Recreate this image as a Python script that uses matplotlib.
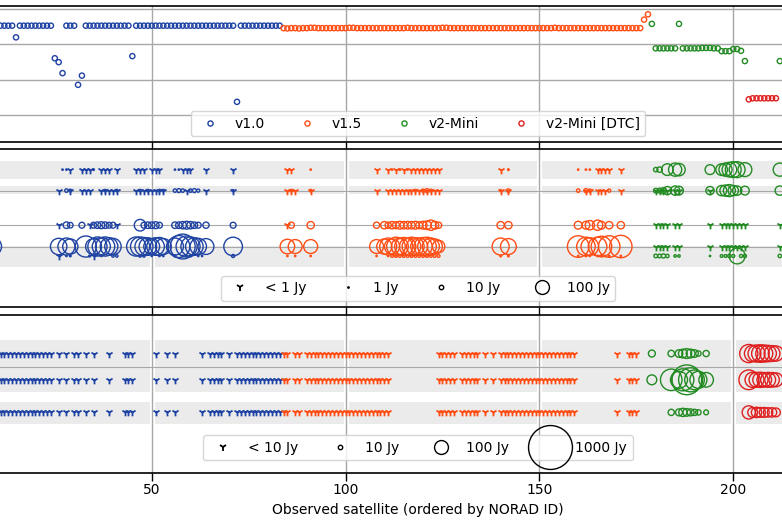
import matplotlib
matplotlib.use("Agg")
import matplotlib.pyplot as plt
from matplotlib.lines import Line2D

# ---------------- data ----------------
# Top panel: orbital altitude (km) per satellite (index ordered by NORAD ID)
v10_sat = list(range(9, 84))
v10_alt = [553, 553, 553, 553, 553, 553, 520, 553, 553, 553, 553, 553, 553, 553, 553, 553,
           461, 450, 419, 553, 553, 553, 386, 412, 553, 553, 553, 553, 553, 553, 553, 553,
           553, 553, 553, 553, 467, 553, 553, 553, 553, 553, 553, 553, 553, 553, 553, 553,
           553, 553, 553, 553, 553, 553, 553, 553, 553, 553, 553, 553, 553, 553, 553, 338,
           553, 553, 553, 553, 553, 553, 553, 553, 553, 553, 553]
v15_sat = list(range(84, 179))
v15_alt = [546, 545, 546, 546, 545, 546, 546, 547, 547, 546, 546, 546, 546, 546, 546, 546,
           546, 547, 547, 546, 546, 546, 546, 546, 546, 546, 546, 546, 546, 546, 546, 546,
           547, 546, 546, 546, 546, 546, 546, 546, 546, 547, 547, 546, 546, 546, 546, 546,
           546, 546, 546, 546, 546, 546, 546, 546, 546, 546, 546, 546, 546, 546, 546, 546,
           546, 546, 546, 546, 546, 546, 547, 546, 546, 546, 546, 546, 546, 546, 546, 546,
           546, 546, 546, 546, 546, 546, 546, 546, 546, 546, 546, 546, 546, 570, 585]
v2m_sat = [179, 180, 181, 182, 183, 184, 185, 186, 187, 188, 189, 190, 191, 192, 193, 194,
           195, 196, 197, 198, 199, 200, 201, 202, 203, 212]
v2m_alt = [558, 489, 489, 489, 489, 489, 489, 558, 489, 489, 489, 489, 489, 490, 490, 490,
           489, 489, 481, 481, 481, 487, 487, 482, 453, 453]
dtc_sat = [204, 205, 206, 207, 208, 209, 210, 211]
dtc_alt = [345, 348, 348, 348, 348, 348, 348, 348]

# Middle panel (LBA): per row -> (non-detections x, [(x, flux Jy), ...])
lba_row_mhz = [65.9, 59.9, 50.0, 43.9, 41.2]
lba_bands_mhz = [(63.3, 68.5), (58.9, 61.3), (38.1, 44.1)]
lba_v10 = [
    ([29, 32, 33, 34, 37, 38, 39, 41, 46, 47, 48, 50, 51, 52, 58, 59, 60, 64, 71],
     [(27, 1), (28, 1), (35, 1.5), (56, 1), (57, 1)]),
    ([26, 29, 32, 33, 34, 37, 38, 39, 40, 41, 46, 47, 48, 49, 50, 51, 52, 53, 59, 64, 71],
     [(28, 6), (29, 4), (38, 3), (41, 3), (47, 3), (49, 3), (52, 3), (53, 3), (56, 6), (57, 8),
      (58, 6), (60, 6), (61, 8), (62, 5), (71, 2)]),
    ([26, 34, 41],
     [(28, 22), (29, 16), (32, 18), (35, 18), (36, 22), (37, 25), (38, 22), (39, 18), (40, 18),
      (47, 70), (48, 18), (49, 22), (50, 22), (51, 25), (52, 18), (56, 22), (57, 22), (58, 28),
      (59, 32), (60, 28), (61, 22), (62, 18), (64, 20), (71, 18)]),
    ([],
     [(9, 160), (26, 140), (28, 150), (29, 120), (33, 230), (35, 130), (36, 190), (37, 170),
      (38, 190), (39, 160), (40, 140), (46, 190), (47, 190), (48, 170), (49, 160), (50, 130),
      (51, 160), (52, 170), (53, 130), (56, 150), (57, 250), (58, 320), (59, 230), (60, 190),
      (61, 160), (62, 140), (64, 130), (71, 180)]),
    ([26, 35],
     [(28, 1), (29, 1.5), (34, 2), (37, 1), (40, 3), (41, 3), (47, 3), (48, 3), (50, 1), (52, 1),
      (53, 1), (56, 2), (58, 1), (59, 1), (60, 2), (62, 1), (63, 1), (71, 5)]),
]
lba_v15 = [
    ([85, 86, 108, 111, 113, 115, 117, 118, 119, 120, 121, 122, 123, 124, 140, 165, 166, 167,
      168, 171],
     [(91, 1), (112, 1), (114, 1.5), (116, 1), (142, 1.5), (160, 1), (162, 1), (163, 1)]),
    ([85, 86, 87, 91, 108, 111, 112, 113, 114, 115, 116, 117, 118, 119, 120, 121, 122, 123, 124,
      140, 142, 162, 163, 165, 166, 167, 171],
     [(86, 3), (91, 3), (118, 3), (120, 5), (121, 8), (122, 4), (140, 2), (142, 6), (160, 6),
      (162, 8), (163, 5), (168, 5)]),
    ([85],
     [(86, 20), (91, 28), (108, 20), (110, 28), (111, 20), (112, 28), (113, 25), (114, 32),
      (115, 28), (116, 30), (117, 28), (118, 32), (119, 25), (120, 32), (121, 38), (122, 55),
      (123, 32), (124, 20), (140, 28), (142, 28), (160, 32), (162, 32), (163, 45), (165, 55),
      (166, 32), (168, 28), (171, 28)]),
    ([],
     [(85, 110), (87, 100), (91, 100), (108, 100), (110, 120), (111, 150), (112, 120),
      (113, 180), (114, 150), (115, 170), (116, 140), (117, 180), (118, 160), (119, 150),
      (120, 170), (121, 180), (122, 150), (123, 120), (124, 80), (140, 150), (142, 130),
      (160, 240), (162, 180), (163, 160), (165, 180), (166, 220), (168, 240), (171, 260)]),
    ([],
     [(85, 1), (87, 1), (91, 1), (108, 1), (111, 1), (112, 4), (113, 4), (114, 4), (115, 4),
      (116, 4), (117, 4), (118, 4), (119, 4), (120, 4), (121, 4), (122, 4), (123, 4), (124, 4),
      (140, 1.5), (142, 1.5), (160, 1), (162, 1), (163, 1), (165, 1), (166, 1), (167, 1),
      (168, 1), (171, 1)]),
]
lba_v2m = [
    ([],
     [(180, 10), (181, 15), (183, 70), (185, 90), (186, 80), (194, 50), (197, 70), (198, 90),
      (199, 110), (200, 130), (201, 130), (203, 100), (212, 90)]),
    ([180, 181, 182, 183, 185, 186, 194],
     [(180, 10), (181, 12), (182, 18), (183, 35), (185, 45), (186, 40), (194, 35), (197, 55),
      (198, 65), (199, 75), (200, 55), (201, 45), (203, 40), (212, 45)]),
    ([180, 181, 182, 183, 185, 186, 194, 197, 198, 199, 200, 201, 202, 203, 212], []),
    ([180, 181, 182, 183, 185, 186, 194, 197, 198, 199, 200, 201, 202, 203, 212], []),
    ([],
     [(180, 7), (181, 7), (182, 9), (183, 6), (185, 3), (186, 3), (194, 1), (197, 4), (198, 4),
      (199, 6), (200, 5), (201, 130), (202, 5), (203, 5), (212, 6)]),
]

# Bottom panel (HBA)
hba_row_mhz = [153.8, 146.3, 137.0]
hba_bands_mhz = [(150.0, 157.6), (142.7, 149.9), (133.8, 140.0)]
hba_v10_nd = ([8, 9, 10, 11, 12, 13, 14, 15, 16, 17, 18, 19, 20, 21, 22, 23, 24, 26, 28, 30, 31,
               33, 35, 39, 43, 44, 45, 51, 54, 56, 63, 65, 66, 67, 68, 70]
              + list(range(72, 84)))
hba_v15_nd = ([84, 85, 87, 88] + list(range(90, 112)) + [124, 125, 126, 127, 128, 130, 131, 132,
              133, 134, 136, 138] + list(range(140, 160)) + [170, 173, 174, 175])
hba_v2m = [
    [(179, 25), (184, 22), (186, 30), (187, 40), (188, 50), (189, 40), (190, 30), (191, 15),
     (193, 20)],
    [(179, 50), (184, 240), (186, 150), (187, 250), (188, 460), (189, 300), (190, 200),
     (191, 150), (193, 110)],
    [(184, 20), (186, 25), (187, 35), (188, 30), (189, 25), (190, 20), (191, 15), (193, 12)],
]
hba_dtc = [
    [(204, 170), (205, 140), (206, 150), (207, 160), (208, 150), (209, 140), (210, 130),
     (211, 120)],
    [(204, 200), (205, 120), (206, 115), (207, 120), (208, 110), (209, 115), (210, 110),
     (211, 100)],
    [(204, 90), (205, 50), (206, 55), (207, 50), (208, 50), (209, 45), (210, 45), (211, 40)],
]

labels = ["v1.0", "v1.5", "v2-Mini", "v2-Mini [DTC]"]
lba_legend = [("< 1 Jy", None), ("1 Jy", 1), ("10 Jy", 10), ("100 Jy", 100)]
hba_legend = [("< 10 Jy", None), ("10 Jy", 10), ("100 Jy", 100), ("1000 Jy", 1000)]

# ---------------- style ----------------
C_V10 = "#1f43a3"
C_V15 = "#ff4d14"
C_V2M = "#228b22"
C_DTC = "#df1f1f"
BAND = "#ebebeb"
GRID = "#a8a8a8"
Y_S = 30
Y_LW = 1.3

plt.rcParams["font.family"] = ["DejaVu Sans"]
fig = plt.figure(figsize=(7.82, 5.21), dpi=100)
H = 521.0


def axes_px(top, bottom):
    return fig.add_axes([0.0, 1 - bottom / H, 1.0, (bottom - top) / H])


ax1 = axes_px(6, 142)
ax2 = axes_px(149, 307)
ax3 = axes_px(315, 473)

XLIM = (10.87, 212.57)
XT = [50, 100, 150, 200]
for ax in (ax1, ax2, ax3):
    ax.set_xlim(*XLIM)
    ax.set_xticks(XT)
    ax.grid(axis="x", color=GRID, lw=1.0, zorder=0.6)
    ax.set_axisbelow(True)
    for s in ("left", "right"):
        ax.spines[s].set_visible(False)
    for s in ("top", "bottom"):
        ax.spines[s].set_linewidth(1.2)
    ax.tick_params(axis="x", direction="out", length=5.5, width=1.0, pad=1.5, labelsize=10)
    ax.tick_params(axis="y", left=False, labelleft=False)
for ax in (ax1, ax2):
    ax.tick_params(axis="x", labelbottom=False)
for ax in (ax2, ax3):
    for xv in XT:
        ax.axvline(xv, color="white", lw=3.6, zorder=0.3)

# ---- top panel ----
ax1.set_ylim(224.6, 608.5)
ax1.set_yticks([300, 400, 500, 600])
ax1.grid(axis="y", color=GRID, lw=1.0, zorder=0)
mk = dict(s=14, facecolors="none", linewidths=1.0, zorder=3)
ax1.scatter(v10_sat, v10_alt, edgecolors=C_V10, **mk)
ax1.scatter(v15_sat, v15_alt, edgecolors=C_V15, **mk)
ax1.scatter(v2m_sat, v2m_alt, edgecolors=C_V2M, **mk)
ax1.scatter(dtc_sat, dtc_alt, edgecolors=C_DTC, **mk)
h1 = [Line2D([], [], ls="", marker="o", mfc="none", mec=c, ms=3.7, mew=1.0)
      for c in (C_V10, C_V15, C_V2M, C_DTC)]
ax1.legend(h1, labels, ncol=4, loc="center", bbox_to_anchor=(0.5345, 0.136), fontsize=10)


def draw_rows(ax, rows_y, rows, color):
    for y, (nd, det) in zip(rows_y, rows):
        if nd:
            ax.scatter(nd, [y] * len(nd), marker="1", s=Y_S, linewidths=Y_LW, color=color,
                       zorder=3)
        if det:
            xs = [d[0] for d in det]
            js = [d[1] for d in det]
            ax.scatter(xs, [y] * len(xs), s=js, facecolors="none", edgecolors=color,
                       linewidths=1.0, zorder=4)


def size_legend(ax, entries, anchor):
    handles = []
    for lab, jy in entries:
        if jy is None:
            handles.append(Line2D([], [], ls="", marker="1", color="k", ms=Y_S ** 0.5,
                                  mew=Y_LW))
        else:
            handles.append(Line2D([], [], ls="", marker="o", mfc="none", mec="k",
                                  ms=jy ** 0.5, mew=1.0))
    ax.legend(handles, [e[0] for e in entries], ncol=4, loc="center", bbox_to_anchor=anchor,
              fontsize=10)


# ---- middle panel (LBA) ----
ax2.set_ylim(26.6, 71.8)
ax2.set_yticks([lba_row_mhz[1], lba_row_mhz[2], lba_row_mhz[3]])
ax2.grid(axis="y", color=GRID, lw=0.8, zorder=0.5)
for lo, hi in lba_bands_mhz:
    ax2.axhspan(lo, hi, color=BAND, lw=0, zorder=0.2)
draw_rows(ax2, lba_row_mhz, lba_v10, C_V10)
draw_rows(ax2, lba_row_mhz, lba_v15, C_V15)
draw_rows(ax2, lba_row_mhz, lba_v2m, C_V2M)
size_legend(ax2, lba_legend, (0.5345, 0.118))

# ---- bottom panel (HBA) ----
ax3.set_ylim(119.7, 164.8)
ax3.set_yticks([150.0])
ax3.grid(axis="y", color=GRID, lw=0.8, zorder=0.5)
for lo, hi in hba_bands_mhz:
    ax3.axhspan(lo, hi, color=BAND, lw=0, zorder=0.2)
for y in hba_row_mhz:
    ax3.scatter(hba_v10_nd, [y] * len(hba_v10_nd), marker="1", s=Y_S, linewidths=Y_LW,
                color=C_V10, zorder=3)
    ax3.scatter(hba_v15_nd, [y] * len(hba_v15_nd), marker="1", s=Y_S, linewidths=Y_LW,
                color=C_V15, zorder=3)
draw_rows(ax3, hba_row_mhz, [([], r) for r in hba_v2m], C_V2M)
draw_rows(ax3, hba_row_mhz, [([], r) for r in hba_dtc], C_DTC)
size_legend(ax3, hba_legend, (0.5345, 0.159))
ax3.set_xlabel("Observed satellite (ordered by NORAD ID)", fontsize=10, labelpad=3)
ax3.xaxis.set_label_coords(0.5345, -0.19)

fig.savefig("out.png", dpi=100)
